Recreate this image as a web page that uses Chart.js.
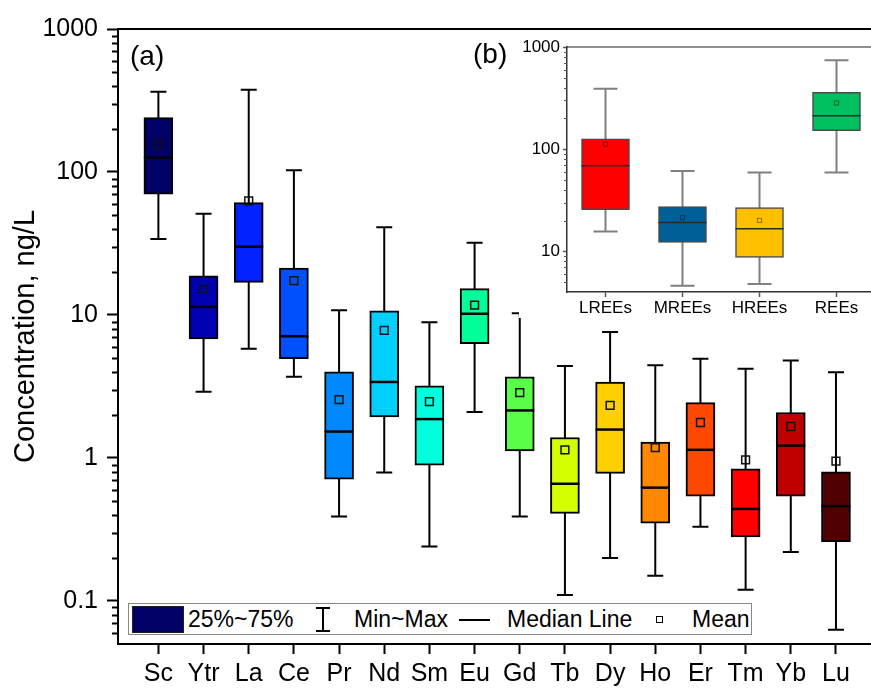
<!DOCTYPE html>
<html>
<head>
<meta charset="utf-8">
<script src="https://cdn.jsdelivr.net/npm/chart.js@4.4.0/dist/chart.umd.min.js"></script>
<style>
  html, body { margin: 0; padding: 0; background: #fff; overflow: hidden; }
  #wrap { position: relative; width: 871px; height: 688px; overflow: hidden;
          font-family: "Liberation Sans", Arial, sans-serif; color: #000; }
  canvas { position: absolute; }
  .lab { position: absolute; font-size: 28px; line-height: 28px; }
  #cover { position: absolute; left: 519px; top: 30px; width: 361px; height: 288px; background: #fff; }
  #legend { position: absolute; left: 128px; top: 603px; width: 622px; height: 30px;
            border: 1.5px solid #888; background: #fff; font-size: 23px; line-height: 31px; }
  #legend > * { position: absolute; }
</style>
</head>
<body>
<div id="wrap">
  <canvas id="main" width="880" height="688" style="left:0;top:0"></canvas>
  <div id="cover"></div>
  <canvas id="inset" width="380" height="300" style="left:500px;top:30px"></canvas>
  <div class="lab" style="left:130px;top:42px">(a)</div>
  <div class="lab" style="left:473px;top:40px">(b)</div>
  <div id="legend">
    <div style="left:3px;top:2px;width:50px;height:25px;background:#000066;border:1px solid #222"></div>
    <span style="left:59px;top:0">25%~75%</span>
    <svg style="left:186px;top:3px" width="16" height="25"><path d="M1 1H15M8 1V24M1 24H15" stroke="#000" stroke-width="2" fill="none"/></svg>
    <span style="left:225px;top:0">Min~Max</span>
    <div style="left:330px;top:15px;width:31px;height:2px;background:#000"></div>
    <span style="left:378px;top:0">Median Line</span>
    <div style="left:527px;top:12px;width:5px;height:5px;border:1px solid #000"></div>
    <span style="left:563px;top:0">Mean</span>
  </div>
</div>
<script>
// element data, ng/L
var elements = ['Sc', 'Ytr', 'La', 'Ce', 'Pr', 'Nd', 'Sm', 'Eu', 'Gd', 'Tb', 'Dy', 'Ho', 'Er', 'Tm', 'Yb', 'Lu'];
var elMin    = [34, 2.9, 5.8, 3.7, 0.39, 0.79, 0.24, 2.1, 0.39, 0.11, 0.20, 0.15, 0.33, 0.12, 0.22, 0.063];
var elQ1     = [70, 6.8, 16.9, 4.95, 0.71, 1.94, 0.89, 6.3, 1.12, 0.41, 0.78, 0.35, 0.54, 0.28, 0.54, 0.26];
var elMedian = [126, 11.4, 30, 7.1, 1.53, 3.4, 1.87, 10.2, 2.15, 0.66, 1.58, 0.62, 1.14, 0.44, 1.22, 0.46];
var elQ3     = [240, 18.8, 61, 21.3, 4.0, 10.7, 3.2, 15.3, 3.7, 1.39, 3.4, 1.29, 2.44, 0.84, 2.08, 0.80];
var elMax    = [364, 51, 376, 103, 10.8, 41, 8.9, 32, 10.3, 4.4, 7.6, 4.45, 4.95, 4.2, 4.8, 3.97];
var elMean   = [157, 15.1, 62.7, 17.4, 2.56, 7.8, 2.48, 11.7, 2.86, 1.14, 2.33, 1.18, 1.77, 0.97, 1.66, 0.95];
var elColors = ['#000066', '#0000b0', '#0022ff', '#0050ff', '#0088ff', '#00d0ff', '#00ffdd', '#00ff99',
                '#5aff4a', '#d4ff00', '#ffd000', '#ff8800', '#ff4800', '#ff0000', '#c00000', '#500000'];
var mainTicks = [0.1, 1, 10, 100, 1000];
var mainTickLabels = ['0.1', '1', '10', '100', '1000'];

// group data (inset)
var groups   = ['LREEs', 'MREEs', 'HREEs', 'REEs'];
var grMin    = [15.6, 4.6, 4.8, 59];
var grQ1     = [25.6, 12.2, 8.7, 152];
var grMedian = [69, 19.2, 16.6, 212];
var grQ3     = [126, 27.4, 26.8, 360];
var grMax    = [391, 61, 59, 741];
var grMean   = [112, 21.4, 20.1, 283];
var grColors = ['#ff0000', '#005f96', '#ffc000', '#00c060'];
var insetTicks = [10, 100, 1000];
var insetTickLabels = ['10', '100', '1000'];

Chart.defaults.font.family = '"Liberation Sans", Arial, sans-serif';
Chart.defaults.color = '#000';

function minorValues(from, to) {
	var out = [];
	for (var d = from; d < to; d *= 10) {
		for (var k = 2; k <= 9; k++) out.push(k * d);
	}
	return out;
}

// whiskers, medians, minor ticks and top frame line
var boxExtras = {
	id: 'boxExtras',
	beforeDatasetsDraw: function(chart, args, o) {
		var ctx = chart.ctx, y = chart.scales.y, meta = chart.getDatasetMeta(0);
		ctx.save();
		ctx.strokeStyle = o.whiskerColor;
		ctx.lineWidth = o.whiskerWidth;
		meta.data.forEach(function(bar, i) {
			var top = y.getPixelForValue(o.hi[i]), bot = y.getPixelForValue(o.lo[i]);
			ctx.beginPath();
			ctx.moveTo(bar.x, top); ctx.lineTo(bar.x, bot);
			ctx.moveTo(bar.x - o.cap / 2, top); ctx.lineTo(bar.x + o.cap / 2, top);
			ctx.moveTo(bar.x - o.cap / 2, bot); ctx.lineTo(bar.x + o.cap / 2, bot);
			ctx.stroke();
		});
		ctx.restore();
	},
	afterDatasetDraw: function(chart, args, o) {
		if (args.index !== 0) return;
		var ctx = chart.ctx, y = chart.scales.y, meta = chart.getDatasetMeta(0);
		ctx.save();
		ctx.strokeStyle = o.medianColor;
		ctx.lineWidth = o.medianWidth;
		meta.data.forEach(function(bar, i) {
			var py = y.getPixelForValue(o.med[i]);
			ctx.beginPath();
			ctx.moveTo(bar.x - bar.width / 2, py);
			ctx.lineTo(bar.x + bar.width / 2, py);
			ctx.stroke();
		});
		ctx.restore();
	},
	afterDraw: function(chart, args, o) {
		var ctx = chart.ctx, y = chart.scales.y, a = chart.chartArea;
		ctx.save();
		ctx.strokeStyle = o.minorColor;
		ctx.lineWidth = o.minorWidth;
		o.minor.forEach(function(v) {
			if (v <= y.min || v >= y.max) return;
			var py = Math.round(y.getPixelForValue(v)) + 0.5;
			ctx.beginPath();
			ctx.moveTo(a.left, py);
			ctx.lineTo(a.left - o.minorLen, py);
			ctx.stroke();
		});
		ctx.strokeStyle = o.frameColor;
		ctx.lineWidth = o.frameWidth;
		ctx.beginPath();
		ctx.moveTo(a.left, a.top);
		ctx.lineTo(a.right + 10, a.top);
		ctx.stroke();
		ctx.restore();
	}
};

var mainChart = new Chart(document.getElementById('main').getContext('2d'), {
	type: 'bar',
	data: {
		datasets: [{
			data: elements.map(function(e, i) { return {x: i, y: [elQ1[i], elQ3[i]]}; }),
			backgroundColor: elColors,
			borderColor: '#000',
			borderWidth: 2,
			borderSkipped: false,
			barThickness: 29,
			order: 2
		}, {
			type: 'line',
			data: elements.map(function(e, i) { return {x: i, y: elMean[i]}; }),
			showLine: false,
			pointStyle: 'rect',
			pointRadius: 5.5,
			pointBorderWidth: 1.5,
			pointBorderColor: '#111',
			pointBackgroundColor: 'rgba(0,0,0,0)',
			order: 1
		}]
	},
	options: {
		responsive: false,
		animation: false,
		layout: {padding: {top: 29, right: 5, left: 0, bottom: 0}},
		plugins: {
			legend: {display: false},
			tooltip: {enabled: false},
			boxExtras: {
				lo: elMin, hi: elMax, med: elMedian, cap: 16,
				whiskerColor: '#000', whiskerWidth: 2,
				medianColor: '#000', medianWidth: 2.5,
				minor: minorValues(0.01, 1000), minorLen: 6, minorWidth: 2, minorColor: '#000',
				frameColor: '#000', frameWidth: 2
			}
		},
		scales: {
			x: {
				type: 'linear', min: -0.894, max: 15.82, offset: false,
				afterBuildTicks: function(s) { s.ticks = elements.map(function(e, i) { return {value: i}; }); },
				afterFit: function(s) { s.height = 44; },
				ticks: {
					callback: function(v) { return elements[v]; },
					autoSkip: false, maxRotation: 0, font: {size: 25}, padding: 5
				},
				grid: {drawOnChartArea: false, offset: false, tickLength: 10, tickWidth: 2, tickColor: '#000'},
				border: {color: '#000', width: 2}
			},
			y: {
				type: 'logarithmic', min: 0.05, max: 1000,
				afterBuildTicks: function(s) { s.ticks = mainTicks.map(function(v) { return {value: v}; }); },
				afterFit: function(s) { s.width = 118; },
				ticks: {
					callback: function(v) { var k = mainTicks.indexOf(v); return k < 0 ? '' : mainTickLabels[k]; },
					font: {size: 25}, padding: 9
				},
				grid: {drawOnChartArea: false, tickLength: 11, tickWidth: 2, tickColor: '#000'},
				border: {color: '#000', width: 2},
				title: {display: true, text: 'Concentration, ng/L', font: {size: 29}, padding: {top: 9, bottom: 0}}
			}
		}
	},
	plugins: [boxExtras]
});

var insetChart = new Chart(document.getElementById('inset').getContext('2d'), {
	type: 'bar',
	data: {
		labels: groups,
		datasets: [{
			data: groups.map(function(g, i) { return [grQ1[i], grQ3[i]]; }),
			backgroundColor: grColors,
			borderColor: '#4a4a4a',
			borderWidth: 1.5,
			borderSkipped: false,
			barThickness: 48,
			order: 2
		}, {
			type: 'line',
			data: grMean,
			showLine: false,
			pointStyle: 'rect',
			pointRadius: 3,
			pointBorderWidth: 1,
			pointBorderColor: 'rgba(0,0,0,0.45)',
			pointBackgroundColor: 'rgba(0,0,0,0)',
			order: 1
		}]
	},
	options: {
		responsive: false,
		animation: false,
		layout: {padding: {top: 17, right: 5, left: 0, bottom: 0}},
		plugins: {
			legend: {display: false},
			tooltip: {enabled: false},
			boxExtras: {
				lo: grMin, hi: grMax, med: grMedian, cap: 24,
				whiskerColor: '#808080', whiskerWidth: 2,
				medianColor: '#2a2a2a', medianWidth: 1.5,
				minor: minorValues(1, 1000), minorLen: 3, minorWidth: 1, minorColor: '#555',
				frameColor: '#222', frameWidth: 1.2
			}
		},
		scales: {
			x: {
				offset: true,
				afterFit: function(s) { s.height = 38; },
				ticks: {font: {size: 17}, padding: 1},
				grid: {drawOnChartArea: false, offset: false, tickLength: 5, tickWidth: 1.5, tickColor: '#555'},
				border: {color: '#333', width: 1.5}
			},
			y: {
				type: 'logarithmic', min: 4, max: 1000,
				afterBuildTicks: function(s) { s.ticks = insetTicks.map(function(v) { return {value: v}; }); },
				afterFit: function(s) { s.width = 67; },
				ticks: {
					callback: function(v) { var k = insetTicks.indexOf(v); return k < 0 ? '' : insetTickLabels[k]; },
					font: {size: 17}, padding: 3
				},
				grid: {drawOnChartArea: false, tickLength: 4, tickWidth: 1.5, tickColor: '#555'},
				border: {color: '#333', width: 1.5}
			}
		}
	},
	plugins: [boxExtras]
});
</script>
</body>
</html>
